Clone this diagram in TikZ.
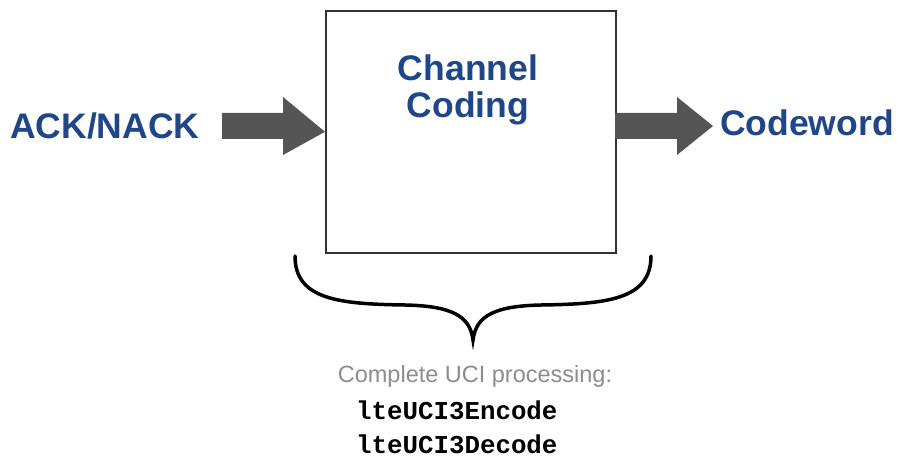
\documentclass[tikz,border=0pt]{standalone}
\usepackage{fontspec}
\setmainfont{Liberation Sans}
\setmonofont{Liberation Mono}
\definecolor{lblue}{RGB}{30,70,140}
\definecolor{agray}{RGB}{85,85,85}
\definecolor{tgray}{RGB}{140,140,140}
\begin{document}
\begin{tikzpicture}[x=1pt,y=-1pt,
  lbl/.style={font=\fontsize{35.5}{40}\selectfont\bfseries, text=lblue, inner sep=0pt},
  fatarrow/.style={fill=agray, draw=none},
  blockbox/.style={draw=black!80, line width=1.6pt, fill=white}]
\useasboundingbox (0,0) rectangle (899,457);
% box
\node[blockbox, minimum width=290pt, minimum height=242pt, anchor=north west, inner sep=0pt] (box) at (325,10) {};
\node[lbl, align=center] (title) at (468,90) {Channel\\[-3pt]Coding};
% labels
\node[lbl, anchor=west] (ack) at (10,126) {ACK/NACK};
\node[lbl, anchor=west] (cw) at (720,123) {Codeword};
% arrows
\coordinate (l1) at (222,126);
\coordinate (r1) at (615,126);
\fill[fatarrow] (l1) ++(0,-13) -- ++(61,0) -- ++(0,-16) -- (box.west) -- (283,155) -- (283,139) -- (222,139) -- cycle;
\fill[fatarrow] (r1) ++(0,-13) -- ++(62,0) -- ++(0,-16) -- (713,126) -- (677,155) -- (677,139) -- (615,139) -- cycle;
% brace
\coordinate (bl) at (295,256);
\coordinate (br) at (651,256);
\coordinate (bt) at (473,340);
\draw[line width=3.5pt, line cap=round] (bl) .. controls (295,300) and (340,304) .. (405,305)
  .. controls (450,306) and (470,315) .. (bt)
  .. controls (476,315) and (496,306) .. (541,305)
  .. controls (606,304) and (651,300) .. (br);
% bottom text
\node[font=\fontsize{23.5}{28}\selectfont, text=tgray, inner sep=0pt] (cap) at (475,376) {Complete UCI processing:};
\node[font=\ttfamily\bfseries\fontsize{25.8}{30}\selectfont, anchor=west, inner sep=0pt] (enc) at (356,410) {lteUCI3Encode};
\node[font=\ttfamily\bfseries\fontsize{25.8}{30}\selectfont, anchor=west, inner sep=0pt] (dec) at (356,444) {lteUCI3Decode};
\end{tikzpicture}
\end{document}
